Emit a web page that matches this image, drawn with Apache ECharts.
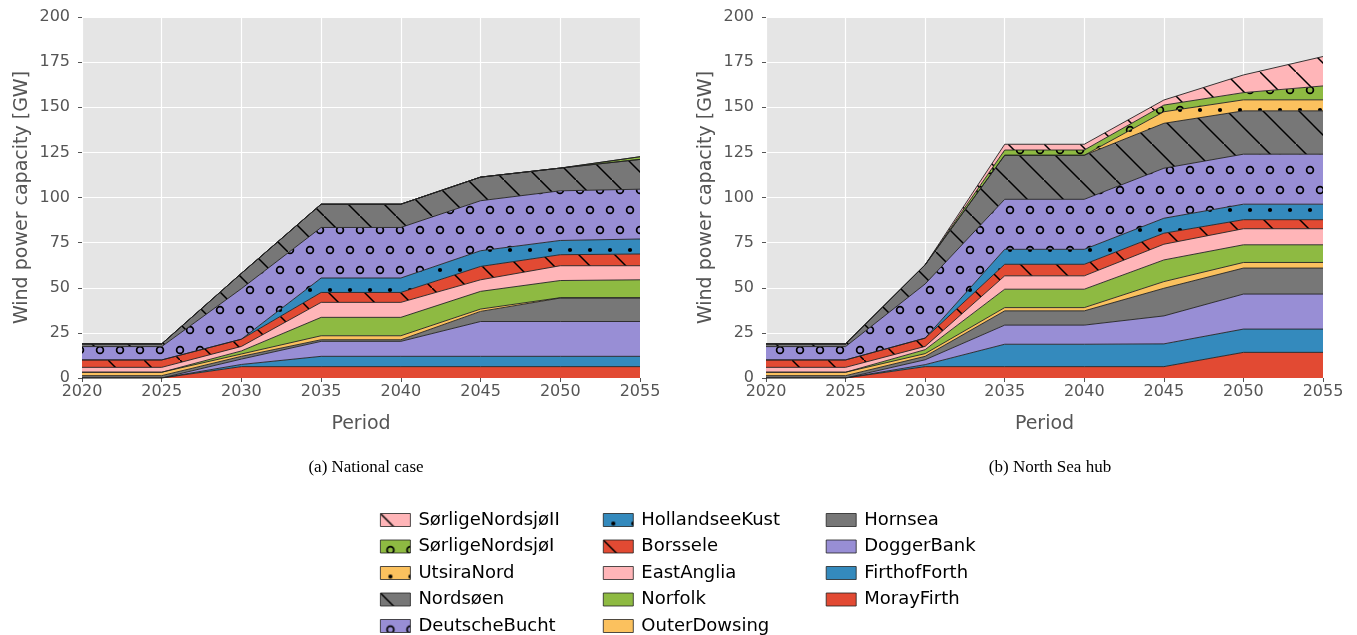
<!DOCTYPE html>
<html>
<head>
<meta charset="utf-8">
<script src="https://cdn.jsdelivr.net/npm/echarts@6/dist/echarts.min.js"></script>
<style>
  html, body { margin: 0; padding: 0; background: #fff; }
  #main { width: 1357px; height: 635px; }
</style>
</head>
<body>
<div id="main"></div>
<script>
// periods on the x axis
var years = ['2020', '2025', '2030', '2035', '2040', '2045', '2050', '2055'];

// wind farms, stacked bottom -> top
var parks = ['MorayFirth', 'FirthofForth', 'DoggerBank', 'Hornsea', 'OuterDowsing', 'Norfolk', 'EastAnglia',
             'Borssele', 'HollandseeKust', 'DeutscheBucht', 'Nordsøen', 'UtsiraNord', 'SørligeNordsjøI', 'SørligeNordsjøII'];

// ---- (a) National case, GW
var natMorayFirth     = [0, 0, 6.3, 6.3, 6.3, 6.3, 6.3, 6.3];
var natFirthofForth   = [0, 0, 1.2, 5.7, 5.7, 5.7, 5.7, 5.7];
var natDoggerBank     = [0, 0, 3.0, 8.3, 8.3, 19.3, 19.3, 19.3];
var natHornsea        = [1.3, 1.3, 1.5, 0.9, 0.9, 5.6, 13.0, 13.0];
var natOuterDowsing   = [1.9, 1.9, 1.3, 2.2, 2.2, 1.3, 0.2, 0.2];
var natNorfolk        = [0, 0, 1.7, 10.2, 10.2, 9.8, 9.5, 9.9];
var natEastAnglia     = [2.7, 2.7, 2.5, 8.3, 8.3, 6.4, 8.2, 7.8];
var natBorssele       = [4.1, 4.1, 4.0, 5.5, 5.5, 7.4, 6.1, 6.5];
var natHollandseeKust = [0, 0, 0, 8.0, 8.0, 8.7, 7.9, 8.3];
var natDeutscheBucht  = [7.4, 7.4, 28.0, 28.0, 28.0, 27.7, 27.5, 27.6];
var natNordsoen       = [1.5, 1.5, 8.5, 12.9, 12.9, 13.1, 12.6, 16.5];
var natUtsiraNord     = [0, 0, 0, 0, 0, 0, 0, 0];
var natSNI            = [0, 0, 0, 0, 0, 0, 0, 1.5];
var natSNII           = [0, 0, 0, 0, 0, 0, 0, 0];

// ---- (b) North Sea hub, GW
var hubMorayFirth     = [0, 0, 6.3, 6.3, 6.3, 6.3, 14.2, 14.2];
var hubFirthofForth   = [0, 0, 1.1, 12.4, 12.4, 12.6, 12.9, 12.9];
var hubDoggerBank     = [0, 0, 2.7, 10.6, 10.6, 15.5, 19.4, 19.4];
var hubHornsea        = [1.3, 1.3, 1.9, 7.9, 7.9, 15.3, 14.4, 14.4];
var hubOuterDowsing   = [1.9, 1.9, 1.5, 1.8, 1.8, 3.7, 3.1, 3.1];
var hubNorfolk        = [0, 0, 2.2, 10.2, 10.2, 12.0, 9.8, 9.8];
var hubEastAnglia     = [2.7, 2.7, 1.8, 7.4, 7.4, 8.7, 8.9, 8.9];
var hubBorssele       = [4.1, 4.1, 4.6, 6.4, 6.4, 6.1, 5.0, 5.0];
var hubHollandseeKust = [0, 0, 0, 8.3, 8.3, 8.3, 8.6, 8.6];
var hubDeutscheBucht  = [7.4, 7.4, 30.0, 27.7, 27.7, 27.7, 27.7, 27.7];
var hubNordsoen       = [1.5, 1.5, 10.6, 24.4, 24.4, 24.9, 24.0, 24.0];
var hubUtsiraNord     = [0, 0, 0, 0, 0, 6.4, 6.1, 6.1];
var hubSNI            = [0, 0, 0, 2.9, 2.9, 3.7, 4.0, 7.7];
var hubSNII           = [0, 0, 0, 3.2, 3.2, 2.8, 9.8, 16.3];

var national = [natMorayFirth, natFirthofForth, natDoggerBank, natHornsea, natOuterDowsing, natNorfolk, natEastAnglia,
                natBorssele, natHollandseeKust, natDeutscheBucht, natNordsoen, natUtsiraNord, natSNI, natSNII];
var hub = [hubMorayFirth, hubFirthofForth, hubDoggerBank, hubHornsea, hubOuterDowsing, hubNorfolk, hubEastAnglia,
           hubBorssele, hubHollandseeKust, hubDeutscheBucht, hubNordsoen, hubUtsiraNord, hubSNI, hubSNII];

// legend order (reversed stack), read column by column
var legendOrder = ['SørligeNordsjøII', 'SørligeNordsjøI', 'UtsiraNord', 'Nordsøen', 'DeutscheBucht',
                   'HollandseeKust', 'Borssele', 'EastAnglia', 'Norfolk', 'OuterDowsing',
                   'Hornsea', 'DoggerBank', 'FirthofForth', 'MorayFirth'];

// ggplot colour cycle + hatches
var colors  = ['#E24A33', '#348ABD', '#988ED5', '#777777', '#FBC15E', '#8EBA42', '#FFB5B8',
               '#E24A33', '#348ABD', '#988ED5', '#777777', '#FBC15E', '#8EBA42', '#FFB5B8'];
var hatches = ['', '', '', '', '', '', '', '\\', '.', 'o', '\\', '.', 'o', '\\'];

function makeHatch(bg, kind) {
    var c = document.createElement('canvas');
    var ctx;
    if (kind === '\\') {
        c.width = 36; c.height = 36;
        ctx = c.getContext('2d');
        ctx.fillStyle = bg; ctx.fillRect(0, 0, 36, 36);
        ctx.strokeStyle = '#000'; ctx.lineWidth = 1.5;
        ctx.beginPath(); ctx.moveTo(-3, -3); ctx.lineTo(39, 39); ctx.stroke();
    } else {
        c.width = 20; c.height = 40;
        ctx = c.getContext('2d');
        ctx.fillStyle = bg; ctx.fillRect(0, 0, 20, 40);
        var pts = [[10, 10], [0, 30], [20, 30]];
        ctx.fillStyle = '#000'; ctx.strokeStyle = '#000'; ctx.lineWidth = 1.7;
        pts.forEach(function (p) {
            ctx.beginPath();
            if (kind === 'o') { ctx.arc(p[0], p[1], 3.4, 0, Math.PI * 2); ctx.stroke(); }
            else { ctx.arc(p[0], p[1], 2.1, 0, Math.PI * 2); ctx.fill(); }
        });
    }
    return { image: c, repeat: 'repeat' };
}

var fills = parks.map(function (p, i) {
    return hatches[i] ? makeHatch(colors[i], hatches[i]) : colors[i];
});

var FONT = 'DejaVu Sans';
function xAx(idx) {
    return {
        type: 'category', gridIndex: idx, data: years, boundaryGap: false,
        name: 'Period', nameLocation: 'middle', nameGap: 37,
        nameTextStyle: { fontFamily: FONT, fontSize: 19, color: '#555' },
        axisLine: { show: false },
        axisTick: { show: true, length: 4, alignWithLabel: true, lineStyle: { color: '#555' } },
        axisLabel: { fontFamily: FONT, fontSize: 16, color: '#555', margin: 6, interval: 0 },
        splitLine: { show: true, interval: 0, lineStyle: { color: '#fff', width: 1.2 } }
    };
}
function yAx(idx) {
    return {
        type: 'value', gridIndex: idx, min: 0, max: 200, interval: 25,
        name: 'Wind power capacity [GW]', nameLocation: 'middle', nameGap: 50,
        nameTextStyle: { fontFamily: FONT, fontSize: 19, color: '#555' },
        axisLine: { show: false },
        axisTick: { show: true, length: 4, lineStyle: { color: '#555' } },
        axisLabel: { fontFamily: FONT, fontSize: 16, color: '#555', margin: 12 },
        splitLine: { show: true, lineStyle: { color: '#fff', width: 1.2 } }
    };
}

var series = [];
[national, hub].forEach(function (set, g) {
    set.forEach(function (vals, i) {
        series.push({
            name: parks[i], type: 'line', stack: g ? 'hub' : 'nat',
            xAxisIndex: g, yAxisIndex: g,
            data: vals,
            symbol: 'none', showSymbol: false,
            lineStyle: { color: '#222', width: 0.9 },
            itemStyle: { color: colors[i] },
            areaStyle: { color: fills[i], opacity: 1 }
        });
    });
});

var myChart = echarts.init(document.getElementById('main'), null, { renderer: 'canvas' });
var option = {
    backgroundColor: '#fff',
    animation: false,
    grid: [
        { left: 82, top: 17, width: 558, height: 361, show: true, backgroundColor: '#E5E5E5', borderWidth: 0 },
        { left: 766, top: 17, width: 557, height: 361, show: true, backgroundColor: '#E5E5E5', borderWidth: 0 }
    ],
    title: [
        { text: '(a) National case', left: 361, top: 454, textAlign: 'center',
          textStyle: { fontFamily: 'Liberation Serif', fontSize: 17, fontWeight: 'normal', color: '#000' } },
        { text: '(b) North Sea hub', left: 1045, top: 454, textAlign: 'center',
          textStyle: { fontFamily: 'Liberation Serif', fontSize: 17, fontWeight: 'normal', color: '#000' } }
    ],
    // one vertical legend that wraps into three columns (fixed-width labels)
    legend: {
        orient: 'vertical', left: 380, top: 511, height: 124, padding: 0,
        itemWidth: 30, itemHeight: 13, itemGap: 8.5,
        icon: 'rect', selectedMode: false,
        formatter: '{n|{name}}',
        textStyle: {
            rich: { n: { fontFamily: FONT, fontSize: 18, lineHeight: 18, color: '#000', width: 176, padding: [0, 0, 0, 3] } }
        },
        data: legendOrder.map(function (n) {
            var i = parks.indexOf(n);
            return { name: n, itemStyle: { color: fills[i], borderColor: '#222', borderWidth: 0.8 } };
        })
    },
    xAxis: [xAx(0), xAx(1)],
    yAxis: [yAx(0), yAx(1)],
    series: series
};
myChart.setOption(option);
</script>
</body>
</html>
